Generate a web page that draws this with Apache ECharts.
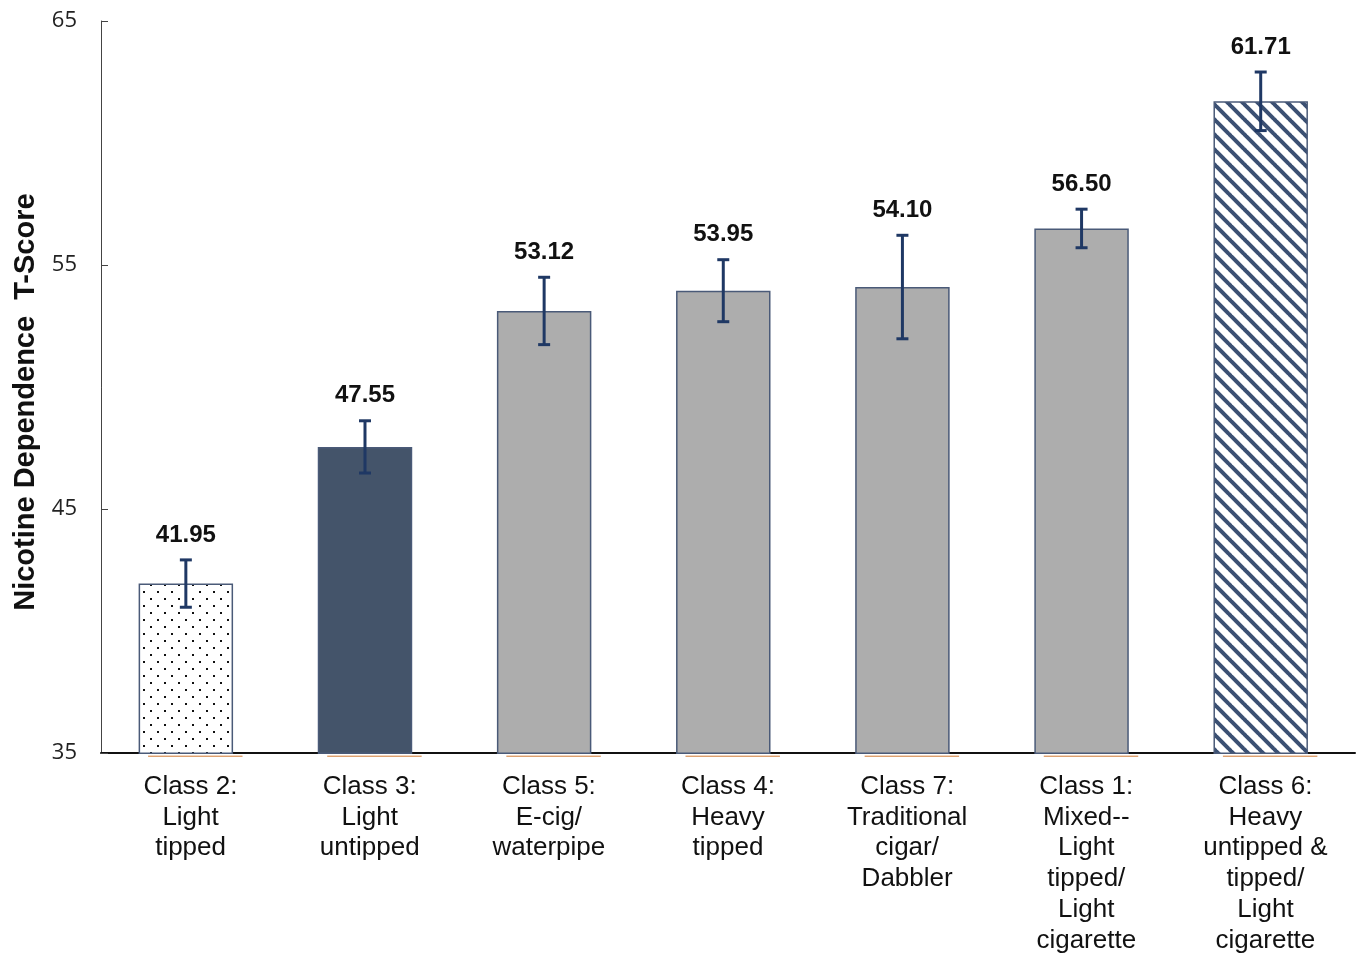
<!DOCTYPE html>
<html>
<head>
<meta charset="utf-8">
<script src="https://cdn.jsdelivr.net/npm/echarts@6/dist/echarts.min.js"></script>
<style>html,body{margin:0;padding:0;background:#fff;}#c{width:1361px;height:956px;}</style>
</head>
<body>
<div id="c"></div>
<script>
const categories = [
  'Class 2:\nLight\ntipped',
  'Class 3:\nLight\nuntipped',
  'Class 5:\nE-cig/\nwaterpipe',
  'Class 4:\nHeavy\ntipped',
  'Class 7:\nTraditional\ncigar/\nDabbler',
  'Class 1:\nMixed--\nLight\ntipped/\nLight\ncigarette',
  'Class 6:\nHeavy\nuntipped &\ntipped/\nLight\ncigarette'
];
const values = [41.95, 47.55, 53.12, 53.95, 54.10, 56.50, 61.71];
const errors = [0.97, 1.07, 1.38, 1.27, 2.12, 0.79, 1.20];
const fills = ['dots', 'dark', 'grey', 'grey', 'grey', 'grey', 'hatch'];
const yTicks = [35, 45, 55, 65];
const baseline = [35, 35, 35, 35, 35, 35, 35];

function dotPattern() {
  const c = document.createElement('canvas');
  c.width = 14; c.height = 14;
  const g = c.getContext('2d');
  g.fillStyle = '#fff'; g.fillRect(0, 0, 14, 14);
  g.fillStyle = '#111';
  g.fillRect(3, 3, 2, 2);
  g.fillRect(10, 10, 2, 2);
  return c;
}
function hatchPattern() {
  const s = 15;
  const c = document.createElement('canvas');
  c.width = s; c.height = s;
  const g = c.getContext('2d');
  g.fillStyle = '#fff'; g.fillRect(0, 0, s, s);
  g.strokeStyle = '#3b5073';
  g.lineWidth = 4;
  for (let k = -1; k <= 1; k++) {
    g.beginPath();
    g.moveTo(k * s - 1, -1);
    g.lineTo(k * s + s + 1, s + 1);
    g.stroke();
  }
  return c;
}
const fillMap = {
  dots: { image: dotPattern(), repeat: 'repeat' },
  dark: '#44546a',
  grey: '#adadad',
  hatch: { image: hatchPattern(), repeat: 'repeat' }
};

const barData = values.map((v, i) => ({
  value: v,
  itemStyle: { color: fillMap[fills[i]] }
}));

const CAT_GAP = 0.42, BAR_GAP = -0.9;

const chart = echarts.init(document.getElementById('c'));
chart.setOption({
  animation: false,
  backgroundColor: '#fff',
  grid: { left: 101, right: 6, top: 21, bottom: 200, containLabel: false },
  xAxis: {
    type: 'category',
    data: categories,
    axisLine: { lineStyle: { color: '#111', width: 2 } },
    axisTick: { show: false },
    axisLabel: {
      interval: 0,
      margin: 18,
      fontSize: 26,
      lineHeight: 30.8,
      color: '#111',
      fontFamily: 'Liberation Sans, Arial, sans-serif'
    }
  },
  yAxis: {
    type: 'value',
    min: yTicks[0],
    max: yTicks[yTicks.length - 1],
    interval: 10,
    name: 'Nicotine Dependence  T-Score',
    nameLocation: 'middle',
    nameRotate: 90,
    nameGap: 61,
    nameTextStyle: {
      fontSize: 29,
      fontWeight: 'bold',
      color: '#111',
      fontFamily: 'Liberation Sans, Arial, sans-serif',
      padding: [0, 30, 0, 0]
    },
    axisLine: { show: true, lineStyle: { color: '#444', width: 1 } },
    axisTick: { show: true, inside: true, length: 7, lineStyle: { color: '#444' } },
    splitLine: { show: false },
    axisLabel: {
      margin: 24,
      fontSize: 22,
      color: '#222',
      fontFamily: 'Open Sans, Noto Sans, sans-serif'
    }
  },
  series: [
    {
      type: 'bar',
      data: barData,
      barGap: (BAR_GAP * 100) + '%',
      barCategoryGap: (CAT_GAP * 100) + '%',
      itemStyle: { borderColor: '#4a5a78', borderWidth: 1.5 },
      z: 2
    },
    {
      type: 'bar',
      data: baseline,
      itemStyle: { color: 'transparent' },
      silent: true,
      z: 1
    },
    {
      type: 'custom',
      data: values.map((v, i) => [i, v, errors[i]]),
      z: 5,
      renderItem: function (params, api) {
        const i = api.value(0), v = api.value(1), e = api.value(2);
        const cw = api.size([1, 0])[0];
        const bw = cw * (1 - CAT_GAP) / (2 + BAR_GAP);
        const shift = bw * (1 + BAR_GAP) / 2;
        const top = api.coord([i, v + e]);
        const bot = api.coord([i, v - e]);
        const base = api.coord([i, yTicks[0]]);
        const x = top[0] - shift;
        const cap = 6;
        const ls = { stroke: '#1f3864', lineWidth: 3 };
        return {
          type: 'group',
          children: [
            { type: 'line', shape: { x1: base[0] + shift - bw / 2, y1: base[1] + 3, x2: base[0] + shift + bw / 2, y2: base[1] + 3 }, style: { stroke: '#d0782f', lineWidth: 1 } },
            { type: 'line', shape: { x1: x, y1: top[1], x2: x, y2: bot[1] }, style: ls },
            { type: 'line', shape: { x1: x - cap, y1: top[1], x2: x + cap, y2: top[1] }, style: ls },
            { type: 'line', shape: { x1: x - cap, y1: bot[1], x2: x + cap, y2: bot[1] }, style: ls },
            {
              type: 'text',
              x: x, y: top[1] - 25,
              style: {
                text: values[i].toFixed(2),
                fontSize: 24,
                fontWeight: 'bold',
                fontFamily: 'Liberation Sans, Arial, sans-serif',
                fill: '#111',
                align: 'center',
                verticalAlign: 'middle'
              }
            }
          ]
        };
      }
    }
  ]
});
</script>
</body>
</html>
